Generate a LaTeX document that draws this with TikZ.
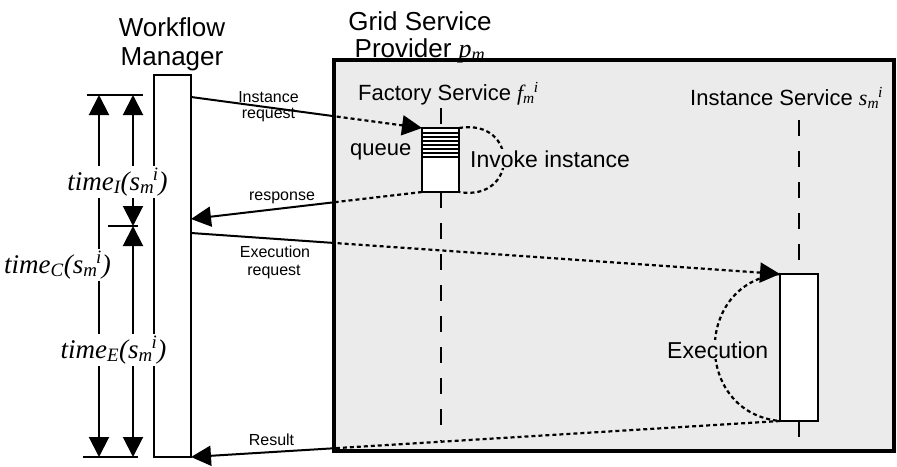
\documentclass[tikz,border=0pt]{standalone}
\usepackage{fontspec}
\setmainfont{Liberation Sans}
\newfontfamily\tms{Liberation Serif}
\usetikzlibrary{arrows.meta,calc}
\definecolor{gspfill}{RGB}{235,235,235}
\newcommand\fbig{\fontsize{26}{28}\selectfont}
\newcommand\fmid{\fontsize{22}{24}\selectfont}
\newcommand\fmidb{\fontsize{23}{25}\selectfont}
\newcommand\fsmall{\fontsize{16}{18}\selectfont}
\newcommand\ftime{\tms\itshape\fontsize{27}{29}\selectfont}
\newcommand\smi{s\textsubscript{m}\kern-.05em\textsuperscript{i}}
\begin{document}
\begin{tikzpicture}[x=1pt,y=-1pt,
  lifebox/.style={draw, line width=2pt, fill=white, minimum width=37pt, inner sep=0pt, outer sep=0pt},
  provider/.style={draw, line width=3.2pt, fill=gspfill, inner sep=0pt, outer sep=0pt},
  lifeline/.style={line width=2pt, dash pattern=on 16pt off 15pt},
  sline/.style={line width=2pt},
  dline/.style={line width=2.2pt, dash pattern=on 4pt off 3pt},
  tip/.style={-{Triangle[length=20pt,width=20pt]}},
  span/.style={line width=2pt, {Triangle[length=20pt,width=20pt]}-{Triangle[length=20pt,width=20pt]}},
  bigt/.style={font=\fbig, inner sep=0pt},
  midt/.style={font=\fmid, inner sep=0pt},
  midtb/.style={font=\fmidb, inner sep=1pt, fill=gspfill},
  smallt/.style={font=\fsmall, inner sep=0pt},
  tlabel/.style={font=\ftime, fill=white, inner sep=2pt}
]
\useasboundingbox (0,0) rectangle (897,466);

% provider area
\node[provider, minimum width=560pt, minimum height=391pt] (gsp) at (614,255.5) {};

% boxes
\node[lifebox, minimum height=382pt] (wm) at (172.5,266) {};
\node[lifebox, minimum height=64pt] (qbox) at (440.5,160) {};
\node[lifebox, minimum width=38pt, minimum height=147pt] (ibox) at (799,347.5) {};

% queue hatching
\foreach \k [evaluate=\k as \d using 1+4*\k] in {1,...,7}
  \draw[line width=1.3pt] ([yshift=-\d pt]qbox.north west) -- ([yshift=-\d pt]qbox.north east);

% lifelines
\coordinate (ftop) at (440.5,108);
\coordinate (fbot) at (440.5,441);
\coordinate (itop) at (799,120);
\coordinate (ibot) at (799,441);
\draw[lifeline] (ftop) -- (qbox.north);
\draw[lifeline] (qbox.south) -- (fbot);
\draw[lifeline] (itop) -- (ibox.north);
\draw[lifeline] (ibox.south) -- (ibot);

% message end points on the workflow manager
\coordinate (irs) at ($(wm.north east)+(0,22)$);
\coordinate (rse) at ($(wm.north east)+(0,144)$);
\coordinate (ers) at ($(wm.north east)+(0,158)$);

% solid parts (outside provider)
\begin{scope}
  \clip (0,0) rectangle ([yshift=-40pt]gsp.south west);
  \draw[sline] (irs) -- (qbox.north west);
  \draw[sline, tip] (qbox.south west) -- (rse);
  \draw[sline] (ers) -- (ibox.north west);
  \draw[sline, tip] (ibox.south west) -- (wm.south east);
\end{scope}
% dotted parts (inside provider)
\begin{scope}
  \clip ([yshift=40pt]gsp.north west) rectangle ([xshift=20pt,yshift=-40pt]gsp.south east);
  \draw[dline, tip] (irs) -- (qbox.north west);
  \draw[dline] (qbox.south west) -- (rse);
  \draw[dline, tip] (ers) -- (ibox.north west);
  \draw[dline] (ibox.south west) -- (wm.south east);
\end{scope}

% invoke and execution curves
\draw[dline] (qbox.north east) .. controls +(60,-10) and +(60,10) .. (qbox.south east);
\draw[dline] (ibox.north west) .. controls +(-87,8) and +(-87,-8) .. (ibox.south west);

% titles
\node[bigt, anchor=base] (wmt1) at (172,36) {Workflow};
\node[bigt, anchor=base] (wmt2) at (172,65) {Manager};
\node[bigt, anchor=base] (gst1) at (420,30) {Grid Service};
\node[bigt, anchor=base] (gst2) at (420,57) {Provider {\tms\itshape p\textsubscript{m}}};
\node[midt, anchor=base west] (fst) at (358,100) {Factory Service {\tms\itshape f\textsubscript{m}\kern-.05em\textsuperscript{i}}};
\node[midt, anchor=base west] (ist) at (690,105) {Instance Service {\tms\itshape \smi}};
\node[midt, anchor=base west] (qt) at (350,155) {queue};
\node[midtb, anchor=base west] (invt) at (469,167) {Invoke instance};
\node[midtb, anchor=base west] (exet) at (666,358) {Execution};

% message labels
\node[smallt, anchor=base] (irl1) at (268.5,102) {Instance};
\node[smallt, anchor=base] (irl2) at (268.5,118) {request};
\node[smallt, anchor=base] (rsl) at (282,200) {response};
\node[smallt, anchor=base] (erl1) at (275,257) {Execution};
\node[smallt, anchor=base] (erl2) at (274,275) {request};
\node[smallt, anchor=base] (rsll) at (271.5,445) {Result};

% time spans
\coordinate (hl1) at (87,95);   \coordinate (hr1) at (143,95);
\coordinate (hl2) at (83,457);  \coordinate (hr2) at (138,457);
\coordinate (hl3) at (108,226); \coordinate (hr3) at (138,226);
\coordinate (ca) at (99,95);  \coordinate (cb) at (99,457);
\coordinate (ma) at (133,95); \coordinate (mm) at (133,226); \coordinate (mb) at (133,457);
\draw[sline] (hl1) -- (hr1);
\draw[sline] (hl2) -- (hr2);
\draw[sline] (hl3) -- (hr3);
\draw[span] (ca) -- (cb);
\draw[span] (ma) -- (mm);
\draw[span] (mm) -- (mb);

\node[tlabel, anchor=base] (tI) at (117.5,190) {time\textsubscript{I}(\smi)};
\node[tlabel, anchor=base] (tC) at (57.5,273) {time\textsubscript{C}(\smi)};
\node[tlabel, anchor=base] (tE) at (113.5,358) {time\textsubscript{E}(\smi)};
\end{tikzpicture}
\end{document}
